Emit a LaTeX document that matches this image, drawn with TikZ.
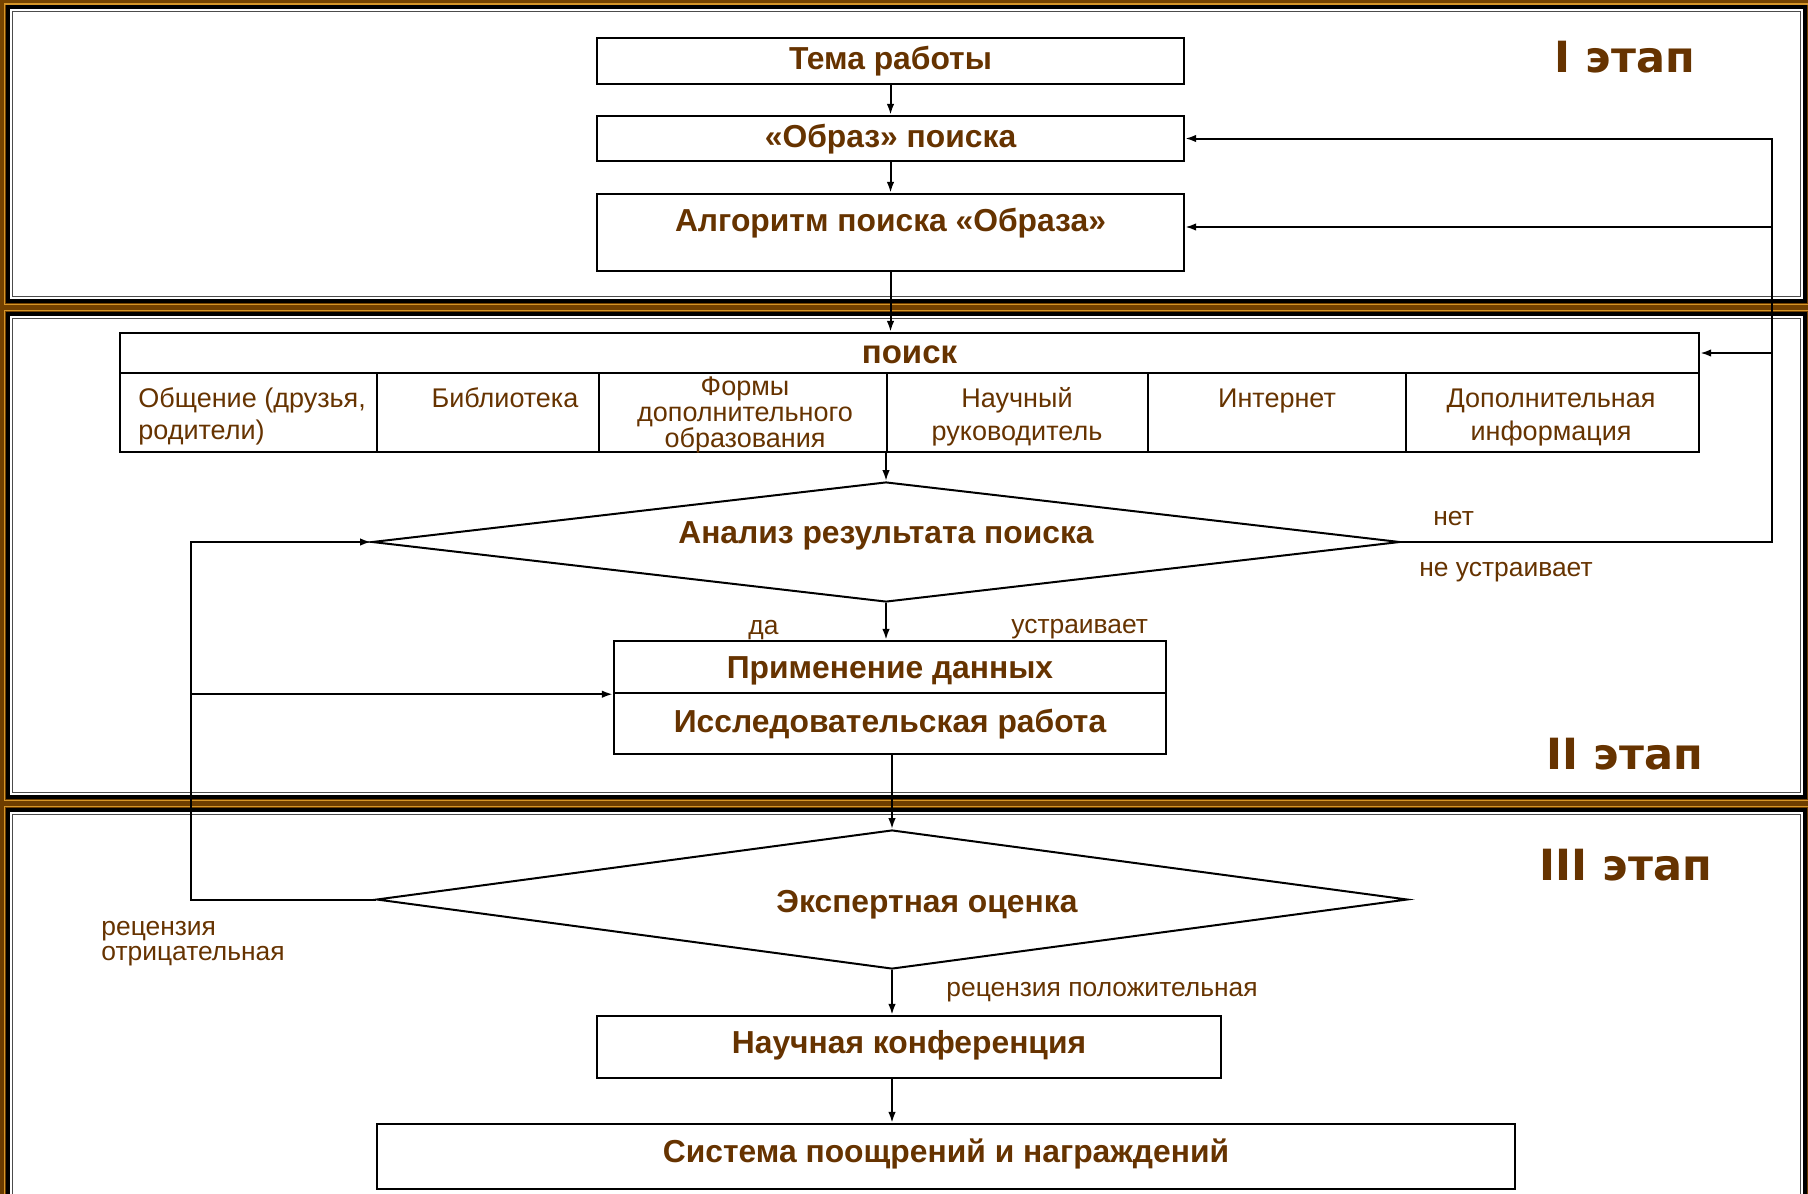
\documentclass[tikz,border=0pt]{standalone}
\usepackage{fontspec}
\setmainfont{Liberation Sans}
\newfontfamily\stagefont{DejaVu Sans}
\usetikzlibrary{fit,shapes.geometric,arrows.meta}
\definecolor{tbrown}{RGB}{102,51,0}
\definecolor{bgtop}{RGB}{118,68,0}
\definecolor{bgmid}{RGB}{140,90,0}
\definecolor{bgbot}{RGB}{105,58,0}
\definecolor{goldline}{RGB}{214,150,40}
\begin{document}
\begin{tikzpicture}[x=0.5pt,y=-0.5pt,
  box/.style={draw=black, line width=1.2pt, inner sep=0pt, fill=white},
  conn/.style={draw=black, line width=1pt},
  arr/.style={conn, -{Latex[length=5.5pt,width=3.8pt]}},
  btxt/.style={text=tbrown, font=\fontsize{15.9}{18}\selectfont\bfseries, inner sep=0pt, anchor=base},
  ctxt/.style={text=tbrown, font=\fontsize{13.5}{16}\selectfont, inner sep=0pt, anchor=base},
  ltxt/.style={text=tbrown, font=\fontsize{13.2}{15}\selectfont, inner sep=0pt, anchor=base west},
  stage/.style={text=tbrown, font=\stagefont\bfseries\fontsize{21.5}{24}\selectfont, inner sep=0pt, anchor=base},
  outerframe/.style={draw=black, line width=2pt, fill=white},
  innerframe/.style={draw=black!70, line width=0.8pt},
  goldframe/.style={draw=goldline, line width=0.6pt}
]
\useasboundingbox (0,0) rectangle (1808,1193);
\clip (0,0) rectangle (1808,1193);
% background
\shade[top color=bgtop, middle color=bgmid, bottom color=bgbot] (0,0) rectangle (1808,1193);
% panels
\draw[goldframe] (4.5,4) rectangle (1809,304.5);
\draw[outerframe] (8,7.5) rectangle (1805,301);
\draw[innerframe] (12.5,11.5) rectangle (1800.5,296.5);
\draw[goldframe] (4.5,310.5) rectangle (1809,800.5);
\draw[outerframe] (8,314) rectangle (1805,797);
\draw[innerframe] (12.5,318.5) rectangle (1800.5,792.5);
\draw[goldframe] (4.5,806.5) rectangle (1809,1230);
\draw[outerframe] (8,810) rectangle (1805,1225);
\draw[innerframe] (12.5,814.5) rectangle (1800.5,1220);
% boxes
\node[box, fit={(597,38)(1184,84)}] (tema) {};
\node[box, fit={(597,116)(1184,161)}] (obraz) {};
\node[box, fit={(597,194)(1184,271)}] (algo) {};
\node[box, fit={(120,333)(1699,373)}] (phead) {};
\node[box, fit={(120,373)(377,452)}] (c1) {};
\node[box, fit={(377,373)(599,452)}] (c2) {};
\node[box, fit={(599,373)(887,452)}] (c3) {};
\node[box, fit={(887,373)(1148,452)}] (c4) {};
\node[box, fit={(1148,373)(1406,452)}] (c5) {};
\node[box, fit={(1406,373)(1699,452)}] (c6) {};
\node[diamond, box, line width=1pt, minimum width=514pt, minimum height=60pt] (an) at (886,542) {};
\node[box, fit={(614,641)(1166,693)}] (prim1) {};
\node[box, fit={(614,693)(1166,754)}] (prim2) {};
\node[diamond, box, line width=1pt, minimum width=515.5pt, minimum height=69.5pt] (ek) at (892,899.5) {};
\node[box, fit={(597,1016)(1221,1078)}] (nauch) {};
\node[box, fit={(377,1124)(1515,1189)}] (sys) {};
% main connectors
\draw[arr] (tema.south) -- (obraz.north);
\draw[arr] (obraz.south) -- (algo.north);
\draw[arr] (algo.south) -- (algo.south |- phead.north);
\draw[arr] (an.north |- c4.south) -- (an.north);
\draw[arr] (an.south) -- (an.south |- prim1.north);
\draw[arr] (ek.north |- prim2.south) -- (ek.north);
\draw[arr] (ek.south) -- (ek.south |- nauch.north);
\draw[arr] (ek.south |- nauch.south) -- (ek.south |- sys.north);
% right feedback
\coordinate (rtop) at (1772,138.5);
\coordinate (ralgo) at (1772,227);
\draw[arr] (an.east) -- (an.east -| rtop) -- (rtop) -- (obraz.east);
\draw[arr] (ralgo) -- (ralgo -| algo.east);
\draw[arr] (rtop |- phead.east) -- (phead.east);
% left feedback
\coordinate (lb) at (191,898);
\draw[arr] (ek.west) -- (ek.west -| lb) |- (an.west);
\draw[arr] (lb |- prim1.south west) -- (prim1.south west);
% box texts
\node[btxt] (t1) at (890.5,70) {Тема работы};
\node[btxt] (t2) at (890.5,148) {«Образ» поиска};
\node[btxt] (t3) at (890.5,231) {Алгоритм поиска «Образа»};
\node[btxt, font=\fontsize{16.5}{19}\selectfont\bfseries] (t4) at (909.5,363) {поиск};
\node[ctxt, anchor=base west] (c1a) at (138,407) {Общение (друзья,};
\node[ctxt, anchor=base west] (c1b) at (138,439) {родители)};
\node[ctxt] (c2a) at (505,407) {Библиотека};
\node[ctxt] (c3a) at (745,395) {Формы};
\node[ctxt] (c3b) at (745,421) {дополнительного};
\node[ctxt] (c3c) at (745,447) {образования};
\node[ctxt] (c4a) at (1017,407) {Научный};
\node[ctxt] (c4b) at (1017,440) {руководитель};
\node[ctxt] (c5a) at (1277,407) {Интернет};
\node[ctxt] (c6a) at (1551,407) {Дополнительная};
\node[ctxt] (c6b) at (1551,440) {информация};
\node[btxt] (t5) at (886,543) {Анализ результата поиска};
\node[btxt] (t6) at (890,678) {Применение данных};
\node[btxt] (t7) at (890,732) {Исследовательская работа};
\node[btxt] (t8) at (927,912) {Экспертная оценка};
\node[btxt] (t9) at (909,1053) {Научная конференция};
\node[btxt] (t10) at (946,1162) {Система поощрений и награждений};
% labels
\node[ltxt] (l1) at (1433,525) {нет};
\node[ltxt] (l2) at (1419,576) {не устраивает};
\node[ltxt] (l3) at (748,634) {да};
\node[ltxt] (l4) at (1011,633) {устраивает};
\node[ltxt] (l5) at (946,996) {рецензия положительная};
\node[ltxt] (l6) at (101,935) {рецензия};
\node[ltxt] (l7) at (101,960) {отрицательная};
% stage labels
\node[stage] (s1) at (1625,73) {I этап};
\node[stage] (s2) at (1625,769) {II этап};
\node[stage] (s3) at (1626,880) {III этап};
\end{tikzpicture}
\end{document}
